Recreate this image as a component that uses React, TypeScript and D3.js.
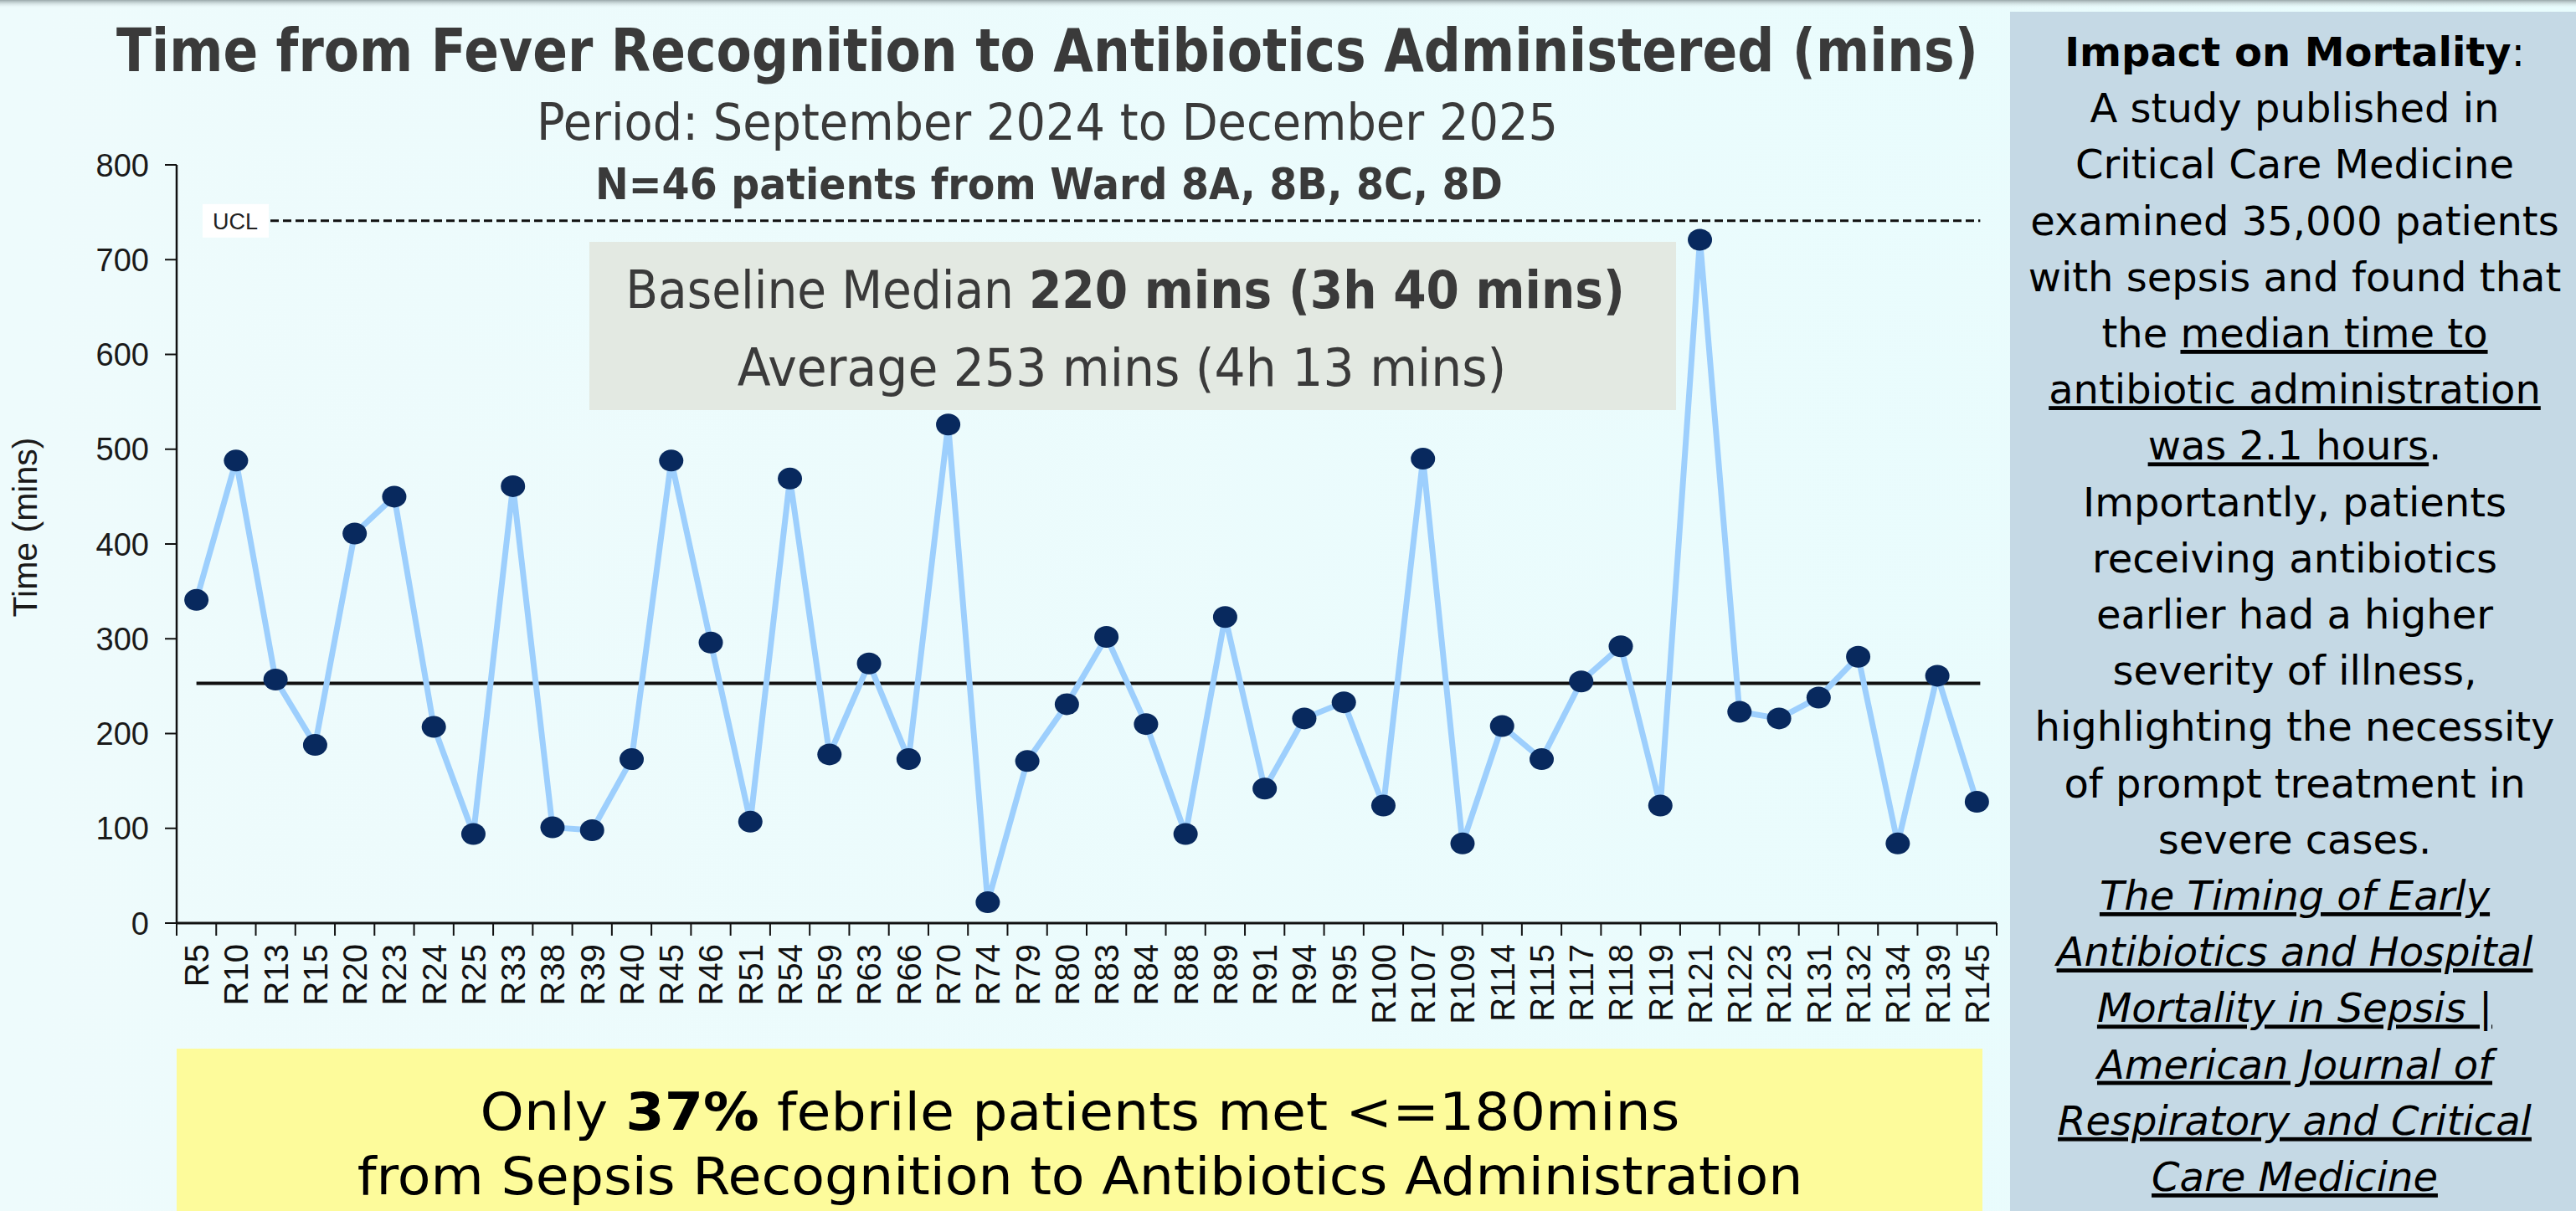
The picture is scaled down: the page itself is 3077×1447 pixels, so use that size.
import React, { useLayoutEffect, useRef, useState } from 'react';
import * as d3 from 'd3';

const patients = ['R5', 'R10', 'R13', 'R15', 'R20', 'R23', 'R24', 'R25', 'R33', 'R38', 'R39', 'R40', 'R45', 'R46', 'R51', 'R54', 'R59', 'R63', 'R66', 'R70', 'R74', 'R79', 'R80', 'R83', 'R84', 'R88', 'R89', 'R91', 'R94', 'R95', 'R100', 'R107', 'R109', 'R114', 'R115', 'R117', 'R118', 'R119', 'R121', 'R122', 'R123', 'R131', 'R132', 'R134', 'R139', 'R145'];
const minutes = [341, 488, 257, 188, 411, 450, 207, 94, 461, 101, 98, 173, 488, 296, 107, 469, 178, 274, 173, 526, 22, 171, 231, 302, 210, 94, 323, 142, 216, 233, 124, 490, 84, 208, 173, 255, 292, 124, 721, 223, 216, 238, 281, 84, 261, 128];
const yTicks = [0, 100, 200, 300, 400, 500, 600, 700, 800];
const centreLine = 253;
const ucl = 741;

const sideLines = [
  [{ t: 'Impact on Mortality', b: true }, { t: ':' }],
  [{ t: 'A study published in' }],
  [{ t: 'Critical Care Medicine' }],
  [{ t: 'examined 35,000 patients' }],
  [{ t: 'with sepsis and found that' }],
  [{ t: 'the ' }, { t: 'median time to', u: true }],
  [{ t: 'antibiotic administration', u: true }],
  [{ t: 'was 2.1 hours', u: true }, { t: '.' }],
  [{ t: 'Importantly, patients' }],
  [{ t: 'receiving antibiotics' }],
  [{ t: 'earlier had a higher' }],
  [{ t: 'severity of illness,' }],
  [{ t: 'highlighting the necessity' }],
  [{ t: 'of prompt treatment in' }],
  [{ t: 'severe cases.' }],
  [{ t: ' The Timing of Early', u: true, i: true }],
  [{ t: 'Antibiotics and Hospital', u: true, i: true }],
  [{ t: 'Mortality in Sepsis |', u: true, i: true }],
  [{ t: 'American Journal of', u: true, i: true }],
  [{ t: 'Respiratory and Critical', u: true, i: true }],
  [{ t: 'Care Medicine', u: true, i: true }],
];

const W = 3077;
const H = 1447;
const sans = '"DejaVu Sans", Verdana, sans-serif';
const arial = '"Liberation Sans", Arial, sans-serif';

// centred text squeezed horizontally to a measured width (the original uses a narrower face)
function FitText({ x, y, width, children, ...rest }: any) {
  const ref = useRef<SVGTextElement>(null);
  const [k, setK] = useState(1);
  useLayoutEffect(() => {
    if (ref.current) {
      const w = ref.current.getComputedTextLength();
      if (w > 0) setK(width / w);
    }
  }, [width]);
  return (
    <text ref={ref} transform={`translate(${x},${y}) scale(${k},1)`} textAnchor="middle" {...rest}>
      {children}
    </text>
  );
}

export default function App() {
  const x = d3.scaleBand().domain(patients).range([211, 2385]).padding(0);
  const y = d3.scaleLinear().domain([0, 800]).range([1103, 197]);
  const cx = (p: string) => (x(p) as number) + x.bandwidth() / 2;

  const line = d3.line<number>()
    .x((d, i) => cx(patients[i]))
    .y(d => y(d));

  const xTickPos = patients.map(p => x(p) as number).concat([x.range()[1]]);
  const x0 = cx(patients[0]);
  const x1 = cx(patients[patients.length - 1]);

  return (
    <>
      <style>{`body{margin:0;overflow:hidden}`}</style>
      <svg width={W} height={H} style={{ position: 'absolute', left: 0, top: 0, display: 'block' }}>
        <defs>
          <linearGradient id="bg" x1="0" y1="0" x2="1" y2="0">
            <stop offset="0" stopColor="#eefbfc" />
            <stop offset="1" stopColor="#e8fcfd" />
          </linearGradient>
          <linearGradient id="topShade" x1="0" y1="0" x2="0" y2="1">
            <stop offset="0" stopColor="#9aa8aa" />
            <stop offset="1" stopColor="#eefbfc" stopOpacity="0" />
          </linearGradient>
        </defs>
        <rect x={0} y={0} width={W} height={H} fill="url(#bg)" />
        <rect x={0} y={0} width={W} height={10} fill="url(#topShade)" />

        {/* titles */}
        <FitText x={1251} y={85} width={2224} fontFamily={sans} fontWeight="bold" fontSize={72} fill="#3a3a3a">
          Time from Fever Recognition to Antibiotics Administered (mins)
        </FitText>
        <FitText x={1251} y={167} width={1220} fontFamily={sans} fontSize={61} fill="#3a3a3a">
          Period: September 2024 to December 2025
        </FitText>
        <FitText x={1253} y={238} width={1084} fontFamily={sans} fontWeight="bold" fontSize={51} fill="#3a3a3a">
          N=46 patients from Ward 8A, 8B, 8C, 8D
        </FitText>

        {/* baseline box */}
        <rect x={704} y={289} width={1298} height={201} fill="#e3e9e2" />
        <FitText x={1344} y={368} width={1194} fontFamily={sans} fontSize={63} fill="#3a3a3a">
          <tspan>Baseline Median </tspan>
          <tspan fontWeight="bold">220 mins (3h 40 mins)</tspan>
        </FitText>
        <FitText x={1340} y={461} width={919} fontFamily={sans} fontSize={63} fill="#3a3a3a">
          Average 253 mins (4h 13 mins)
        </FitText>

        {/* axes */}
        <line x1={211} x2={211} y1={y(800)} y2={y(0)} stroke="#111" strokeWidth={2.5} />
        {yTicks.map(t => (
          <g key={t}>
            <line x1={197} x2={211} y1={y(t)} y2={y(t)} stroke="#111" strokeWidth={2} />
            <text x={178} y={y(t)} dy="0.36em" textAnchor="end" fontFamily={arial} fontSize={38} fill="#1a1a1a">{t}</text>
          </g>
        ))}
        <text transform={`translate(44,630) rotate(-90)`} textAnchor="middle" fontFamily={arial} fontSize={41} fill="#1a1a1a">
          Time (mins)
        </text>
        <line x1={211} x2={2385} y1={y(0)} y2={y(0)} stroke="#111" strokeWidth={3} />
        {xTickPos.map((p, i) => (
          <line key={i} x1={p} x2={p} y1={y(0)} y2={y(0) + 15} stroke="#111" strokeWidth={2} />
        ))}
        {patients.map(p => (
          <text key={p} transform={`translate(${cx(p)},1128) rotate(-90)`} dy="0.36em" textAnchor="end"
            fontFamily={arial} fontSize={40} fill="#111">{p}</text>
        ))}

        {/* limits */}
        <line x1={323} x2={x1 + 4} y1={y(ucl)} y2={y(ucl)} stroke="#111" strokeWidth={3} strokeDasharray="10,5" />
        <rect x={242} y={y(ucl) - 20} width={79} height={40} fill="#ffffff" />
        <text x={281} y={y(ucl)} dy="0.36em" textAnchor="middle" fontFamily={arial} fontSize={27} fill="#222">UCL</text>
        <line x1={x0} x2={x1 + 4} y1={y(centreLine)} y2={y(centreLine)} stroke="#111" strokeWidth={4} />

        {/* series */}
        <path d={line(minutes) || ''} fill="none" stroke="#9dcffd" strokeWidth={7} strokeLinejoin="round" />
        {minutes.map((v, i) => (
          <ellipse key={i} cx={cx(patients[i])} cy={y(v)} rx={14.5} ry={13} fill="#08295e" />
        ))}

        {/* bottom message */}
        <rect x={211} y={1253} width={2157} height={194} fill="#fdfb9b" />
        <FitText x={1290} y={1350} width={1433} fontFamily={sans} fontSize={62} fill="#000">
          <tspan>Only </tspan>
          <tspan fontWeight="bold">37%</tspan>
          <tspan> febrile patients met &lt;=180mins</tspan>
        </FitText>
        <FitText x={1290} y={1427} width={1727} fontFamily={sans} fontSize={62} fill="#000">
          from Sepsis Recognition to Antibiotics Administration
        </FitText>

        {/* side panel */}
        <rect x={2401} y={14} width={W - 2401} height={H - 14} fill="#c5d9e5" />
        {sideLines.map((segs, li) => (
          <text key={li} x={2741} y={79 + li * 67.2} textAnchor="middle" fontFamily={sans} fontSize={48} fill="#000">
            {segs.map((s: any, si) => (
              <tspan key={si} fontWeight={s.b ? 'bold' : 'normal'} fontStyle={s.i ? 'italic' : 'normal'}
                textDecoration={s.u ? 'underline' : 'none'}>{s.t}</tspan>
            ))}
          </text>
        ))}
      </svg>
    </>
  );
}
